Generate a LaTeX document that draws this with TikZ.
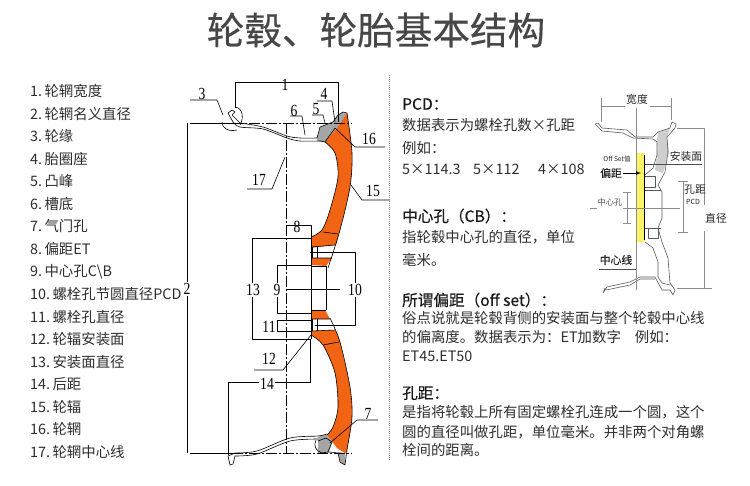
\documentclass[tikz,border=0pt]{standalone}
\usepackage{fontspec}
\setmainfont{Noto Sans CJK SC}
\newfontfamily\headfont[FakeBold=0.4]{Noto Sans CJK SC}
\newfontfamily\numfont{Liberation Serif}
\usetikzlibrary{positioning}
\definecolor{rimorange}{RGB}{240,100,20}
\definecolor{rimgray}{RGB}{165,165,165}
\definecolor{marker}{RGB}{253,243,105}
\newcommand{\numtxt}[1]{\scalebox{.8}[1]{#1}}
\newcommand{\fcomma}{^^^^ff0c}
\newcommand{\fcolon}{^^^^ff1a}
\newcommand{\flpar}{^^^^ff08}
\newcommand{\frpar}{^^^^ff09}
\tikzset{
  lbl/.style = {inner sep=0pt, anchor=west, text=black!82, font=\fontsize{14.4}{16}\selectfont},
  num/.style = {inner sep=0pt, font=\numfont\fontsize{17}{18}\selectfont},
  numw/.style = {num, fill=white, inner sep=1pt},
  dim/.style = {line width=.6pt},
  rimline/.style = {line width=.6pt},
  body/.style = {inner sep=0pt, anchor=west, text=black!82, font=\fontsize{14.4}{16}\selectfont},
  head/.style = {inner sep=0pt, anchor=west, text=black!90, font=\headfont\fontsize{15.6}{17}\selectfont},
  minidim/.style = {black!45, line width=.4pt},
  minirim/.style = {black!65, line width=.6pt},
  minilbl/.style = {inner sep=0pt, text=black!85, font=\fontsize{10.8}{12}\selectfont},
  miniboldlbl/.style = {minilbl, font=\headfont\fontsize{10.8}{12}\selectfont},
}
\begin{document}
\begin{tikzpicture}[x=1pt,y=-1pt,line join=round]
\useasboundingbox (0,0) rectangle (750,485);
\node[inner sep=0pt, text=black!72, font=\headfont\fontsize{37.6}{40}\selectfont] (title) at (376,30) {轮毂、轮胎基本结构};
% list of parts
\foreach \n/\txt [count=\i from 0] in {1/轮辋宽度,2/轮辋名义直径,3/轮缘,4/胎圈座,5/凸峰,6/槽底,7/气门孔,8/偏距ET,9/中心孔C\textbackslash B,10/螺栓孔节圆直径PCD,11/螺栓孔直径,12/轮辐安装面,13/安装面直径,14/后距,15/轮辐,16/轮辋,17/轮辋中心线}{
  \node[lbl] (part\n) at (30,{91+\i*22.56}) {\n.\,\txt};
}
% rim section, upper half
\fill[rimgray] (317,138) -- (320,127) -- (333,122) -- (338,115) -- (343,112) -- (347,113) -- (337,128) -- (325,142) -- (317,141) -- cycle;
\fill[rimorange] (325,142) -- (337,128) -- (347,113) -- plot[smooth] coordinates {(347,113) (352,153) (350,187) (340,230) (336,245)} -- (318,247) -- (311,248) -- (311,237) -- plot[smooth] coordinates {(311,237) (322,230) (330,210) (338,177) (335,153) (325,142)} -- cycle;
\fill[rimorange] (311,258) -- (332,258) -- (326,266) -- (311,265) -- cycle;
\draw[rimline] plot[smooth] coordinates {(347,113) (352,153) (350,187) (340,230) (328,268)};
\draw[rimline] plot[smooth] coordinates {(311,237) (322,230) (330,210) (338,177) (335,153) (325,142)};
\draw[rimline] (233,122) -- (228,113) -- (232,110) -- (235,112) -- (232,115) -- (240,123);
\draw[rimline] plot[smooth] coordinates {(240,123) (263,127) (287,136) (300,138) (317,138)} -- (320,127) -- (333,122) -- (338,115) -- (343,112) -- (347,113);
\draw[rimline] plot[smooth] coordinates {(233,122) (240,127) (263,129) (287,138) (300,141) (320,141)} -- (325,142);
\draw[rimline] (323,232) -- (338,234) (335,128) -- (325,142);
% rim section, lower half
\fill[rimorange] (311,311) -- (325,310) -- (330,319) -- (311,319) -- cycle;
\fill[rimorange] (311,331) -- (335,330) -- plot[smooth] coordinates {(335,330) (340,342) (350,387) (352,417) (347,450) (345,453)} -- (337,448) -- (327,435) -- plot[smooth] coordinates {(327,435) (333,427) (338,407) (335,373) (323,345) (311,335)} -- cycle;
\fill[rimgray] (338,452) -- (345,453) -- (345,465) -- (340,462) -- cycle;
\fill[rimgray] (318,437) -- (326,434) -- (332,441) -- (329,452) -- (318,453) -- cycle;
\draw[rimline] plot[smooth] coordinates {(330,318) (340,342) (350,387) (352,417) (347,450) (345,465)} -- (340,462) -- (338,453) -- (330,452) -- (320,453);
\draw[rimline] plot[smooth] coordinates {(311,335) (323,345) (335,373) (338,407) (333,427) (327,435)};
\draw[rimline] plot[smooth] coordinates {(235,453) (257,451) (290,438) (318,436) (327,434)};
\draw[rimline] plot[smooth] coordinates {(235,456) (257,454) (290,441) (318,439)};
\draw[rimline] (235,453) -- (228,456) -- (230,465) -- (233,464) -- (235,456);
\draw[rimline] (323,345) -- (339,342) (318,441) -- (326,438) -- (332,442) -- (328,452);
\draw[rimline] (316,440) .. controls (313,446) and (316,451) .. (322,453);
% hub bore
\draw[line width=1pt] (311,237) -- (311,339);
\draw[line width=1pt] (326,266) -- (326,310);
\draw[rimline] (311,266) -- (326,266) (311,310) -- (326,310);
\draw[rimline] (317,247) -- (317,258) (312,247) -- (312,258) (317,319) -- (317,331) (312,319) -- (312,331);
\draw[rimline] (311,247) -- (335,245) (311,258) -- (332,258) (311,319) -- (330,319) (311,331) -- (335,330);
% centre lines
\draw[dim] (190,123) -- (232,123) (190,453) -- (232,453);
\draw[dim, dash pattern=on 11pt off 2pt on 2pt off 2pt] (232,123) -- (352,123);
\draw[dim, dash pattern=on 11pt off 2pt on 2pt off 2pt] (232,453) -- (352,453);
\draw[dim, dash pattern=on 11pt off 2pt on 2pt off 2pt] (286,123) -- (286,453);
% dimension lines
\draw[dim] (235,108) -- (235,82) -- (338,82) -- (338,122);
\draw[dim] (187,123) -- (187,453);
\draw[dim] (286,225) -- (311,225) -- (311,237);
\draw[dim] (311,238) -- (252,238) -- (252,339) -- (311,339);
\draw[dim] (311,265) -- (277,265) -- (277,313) -- (311,313);
\draw[dim] (311,320) -- (277,320) -- (277,331) -- (311,331);
\draw[dim] (310,252) -- (355,252) -- (355,325) -- (315,325);
\draw[dim] (286,289) -- (340,289);
\draw[dim] (228,455) -- (228,382) -- (310,382) -- (310,339);
% leader lines
\draw[dim] (190,100) -- (217,100) -- (223,115);
\draw[dim] (222,122) .. controls (222,128) and (228,132) .. (237,130);
\draw[dim] (235,107) .. controls (243,108) and (244,118) .. (240,125);
\draw[dim] (290,116) -- (302,116) -- (305,135);
\draw[dim] (312,115) -- (323,115) -- (325,123);
\draw[dim] (317,101) -- (332,101) -- (335,122);
\draw[dim] (335,128) -- (355,147) -- (385,147);
\draw[dim] (351,185) -- (362,200) -- (390,200);
\draw[dim] (285,157) -- (272,189) -- (247,189);
\draw[dim] (311,335) -- (283,370) -- (254,370);
\draw[dim] (330,443) -- (357,420) -- (378,420);
% numbers on the section
\node[num] (n1) at (285,85) {\numtxt{1}};
\node[numw] (n2) at (187,289) {\numtxt{2}};
\node[num] (n3) at (202,94) {\numtxt{3}};
\node[num] (n4) at (324,94) {\numtxt{4}};
\node[num] (n5) at (316,109) {\numtxt{5}};
\node[num] (n6) at (294,111) {\numtxt{6}};
\node[num] (n7) at (368,414) {\numtxt{7}};
\node[num] (n8) at (297,227) {\numtxt{8}};
\node[numw] (n9) at (277,290) {\numtxt{9}};
\node[numw] (n10) at (355,290) {\numtxt{10}};
\node[numw] (n11) at (269,327) {\numtxt{11}};
\node[num] (n12) at (269,359) {\numtxt{12}};
\node[numw] (n13) at (253,290) {\numtxt{13}};
\node[numw] (n14) at (267,384) {\numtxt{14}};
\node[num] (n15) at (373,191) {\numtxt{15}};
\node[num] (n16) at (369,139) {\numtxt{16}};
\node[num] (n17) at (259,180) {\numtxt{17}};
% divider
\draw[densely dotted, black!45, line width=1pt] (389,75) -- (389,460);
% text blocks
\node[head] (pcdhead) at (402,104) {PCD\fcolon};
\node[body] (pcda) at (402,125) {数据表示为螺栓孔数×孔距};
\node[body] (pcdb) at (402,148) {例如\fcolon};
\node[body] (pcdc) at (402,169) {5×114.3};
\node[body] (pcdd) at (473,169) {5×112};
\node[body] (pcde) at (538,169) {4×108};
\node[head] (cbhead) at (402,216) {中心孔\flpar CB\frpar\fcolon};
\node[body] (cba) at (402,237) {指轮毂中心孔的直径\fcomma 单位};
\node[body] (cbb) at (402,260) {毫米。};
\node[head] (ethead) at (402,300) {所谓偏距\flpar off set\frpar\fcolon};
\node[body] (eta) at (402,318) {俗点说就是轮毂背侧的安装面与整个轮毂中心线};
\node[body] (etb) at (402,337) {的偏离度。数据表示为\fcolon ET加数字\hspace{14pt}例如\fcolon};
\node[body] (etc) at (402,356) {ET45.ET50};
\node[head] (pitchhead) at (402,393) {孔距\fcolon};
\node[body] (pitcha) at (402,412) {是指将轮毂上所有固定螺栓孔连成一个圆\fcomma 这个};
\node[body] (pitchb) at (402,432) {圆的直径叫做孔距\fcomma 单位毫米。并非两个对角螺};
\node[body] (pitchc) at (402,450) {栓间的距离。};
% small section at the right
\fill[marker] (636,153) rectangle (645,242);
\fill[rimgray!55] (658,132) -- (670,128) -- (667,138) -- (669,152) -- (663,173) -- (655,170) -- (658,148) -- (657,140) -- cycle;
\draw[minirim] (595,124) -- (598,123) -- (602,128) -- (627,130) -- (635,137) -- (653,137) -- (658,132) -- (670,128) -- (672,122) -- (676,124) -- (675,128) -- (667,137) -- (668,152) -- (665,172) -- (658,185) -- (662,192) -- (662,218) -- (658,228) -- (662,242) -- (668,258) -- (670,283) -- (675,290) -- (673,295) -- (670,290) -- (662,290) -- (655,277) -- (640,277) -- (630,282) -- (607,287) -- (603,293) -- (605,288);
\draw[minirim] (595,124) -- (602,131) -- (623,133) -- (633,138) -- (653,139) -- (657,142) -- (657,155) -- (653,168) -- (645,175);
\draw[minirim] (645,176) -- (655,176) -- (655,187) -- (645,187);
\draw[minirim] (645,190) -- (661,190) (645,228) -- (661,228);
\draw[minirim] (648,228) -- (648,238) -- (658,238) -- (658,228);
\draw[minirim] (645,242) -- (653,248) -- (658,262) -- (658,277) -- (662,283) -- (670,285);
\draw[minirim] (606,290) -- (630,285) -- (640,279) -- (655,279);
\draw[black, line width=.9pt] (644,155) -- (644,240);
\draw[minidim] (636,108) -- (636,290);
\draw[minidim] (601,98) -- (601,122) (671,98) -- (671,120);
\draw[minidim] (601,106) -- (625,106) (650,106) -- (671,106);
\draw[minidim] (677,128) -- (704,128) -- (704,205) (704,231) -- (704,288) (677,288) -- (712,288);
\draw[minidim] (678,181) -- (688,181) (683,181) -- (683,232) (678,232) -- (688,232);
\draw[minidim] (623,192) -- (631,192) (627,192) -- (627,223) (623,223) -- (631,223);
\draw[minidim] (590,208) -- (597,208) (623,208) -- (680,208);
\draw[black!70, line width=.8pt] (645,164) -- (702,164);
\draw[black!70, line width=.8pt] (599,269) -- (636,269);
\draw[-latex, line width=.7pt] (623,173) -- (641,173);
\node[minilbl] (widthlbl) at (637,99) {宽度};
\node[minilbl, font=\fontsize{6.6}{8}\selectfont] (offlbl) at (617,159) {Off Set值};
\node[miniboldlbl] (offsetlbl) at (611,173) {偏距};
\node[minilbl, text=black!70, font=\fontsize{8.2}{9}\selectfont] (holelbl) at (610,202) {中心孔};
\node[miniboldlbl] (centerlbl) at (616,260) {中心线};
\node[minilbl] (mountlbl) at (686,156) {安装面};
\node[minilbl] (pitchlbl) at (695,190) {孔距};
\node[minilbl, font=\fontsize{7}{8}\selectfont] (pcdlbl) at (693,202) {PCD};
\node[minilbl] (diamlbl) at (716,218) {直径};
\end{tikzpicture}
\end{document}
